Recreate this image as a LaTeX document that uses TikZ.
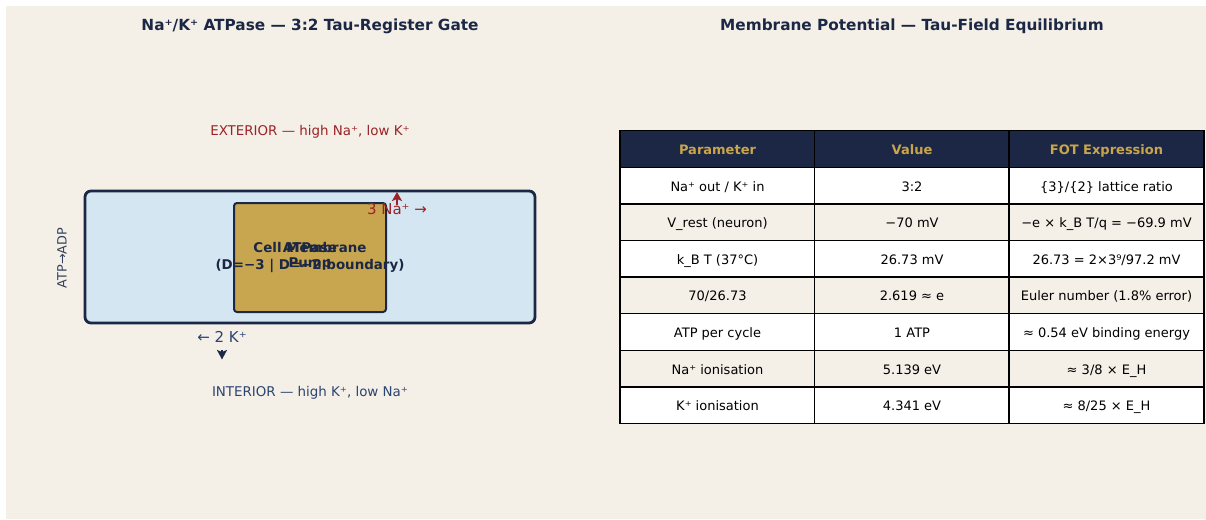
\documentclass[tikz,border=0pt]{standalone}
\usepackage{fontspec}
\setmainfont{DejaVu Sans}
\usetikzlibrary{arrows.meta}
\definecolor{bgpanel}{HTML}{F4EFE7}
\definecolor{navy}{HTML}{1B2744}
\definecolor{gold}{HTML}{C8A64F}
\definecolor{goldtxt}{HTML}{C9A54C}
\definecolor{lightblue}{HTML}{D4E6F1}
\definecolor{darkred}{HTML}{9B2226}
\definecolor{intblue}{HTML}{2B4470}
\definecolor{grayblue}{HTML}{34425E}
\definecolor{rowbeige}{HTML}{F4EFE7}
\begin{document}
\begin{tikzpicture}[x=1pt,y=-1pt,
  titletext/.style={font=\fontsize{15.3}{18}\selectfont\bfseries, text=navy},
  cell/.style={draw=black, line width=1.5pt, minimum width=194.7pt, minimum height=36.6pt, inner sep=0pt, text height=12.5pt, text depth=1.7pt, font=\fontsize{13}{15}\selectfont, text=black},
  headcell/.style={cell, fill=navy, text=goldtxt, font=\fontsize{13}{15}\selectfont\bfseries},
  wcell/.style={cell, fill=white},
  bcell/.style={cell, fill=rowbeige},
  membox/.style={draw=navy, line width=2.8pt, fill=lightblue, rounded corners=6pt, minimum width=450pt, minimum height=132pt, inner sep=0pt},
  pumpbox/.style={draw=navy, line width=2pt, fill=gold, rounded corners=3pt, minimum width=152pt, minimum height=109pt, inner sep=0pt},
  boldlabel/.style={font=\fontsize{13.4}{17}\selectfont\bfseries, text=navy, align=center},
  ionlabel/.style={font=\fontsize{15}{17}\selectfont},
  sidelabel/.style={font=\fontsize{13.4}{15}\selectfont}
]
\useasboundingbox (0,0) rectangle (1206,519);
\fill[white] (0,0) rectangle (1206,519);
\fill[bgpanel] (6,6) rectangle (1206,519);

% titles
\node[titletext] (tleft) at (310,26.5) {Na⁺/K⁺ ATPase — 3:2 Tau-Register Gate};
\node[titletext] (tright) at (912,26.5) {Membrane Potential — Tau-Field Equilibrium};

% left diagram
\node[sidelabel, text=darkred] (ext) at (310,131.5) {EXTERIOR — high Na⁺, low K⁺};
\node[membox] (mem) at (310,257) {};
\node[pumpbox] (pump) at (310,257.5) {};
\node[boldlabel] (memtext) at (310,257.5) {Cell Membrane\\(D=−3 | D=−2 boundary)};
\node[boldlabel, font=\fontsize{13.4}{15}\selectfont\bfseries] (pumptext) at (310,256.5) {ATPase\\Pump};
\node[sidelabel, font=\fontsize{12.8}{14}\selectfont, text=grayblue, rotate=90] (atp) at (62,258) {ATP→ADP};
\node[ionlabel, text=darkred] (na) at (397,209) {3 Na⁺ →};
\coordinate (natail) at (397,205);
\coordinate (nahead) at (397,192);
\draw[darkred, line width=1.8pt, -{Stealth[length=9pt,width=10pt,inset=2pt]}] (natail) -- (nahead);
\node[ionlabel, text=intblue] (k) at (222,337) {← 2 K⁺};
\coordinate (ktail) at (222,350);
\coordinate (khead) at (222,359.5);
\draw[navy, line width=1.8pt, -{Stealth[length=9.5pt,width=10pt,inset=2pt]}] (ktail) -- (khead);
\node[sidelabel, text=intblue] (int) at (310,392.5) {INTERIOR — high K⁺, low Na⁺};

% table
\node[headcell] (h1) at (717.5,149) {Parameter};
\node[headcell] (h2) at (912,149) {Value};
\node[headcell] (h3) at (1106.5,149) {FOT Expression};

\node[wcell] (r1a) at (717.5,185.6) {Na⁺ out / K⁺ in};
\node[wcell] (r1b) at (912,185.6) {3:2};
\node[wcell] (r1c) at (1106.5,185.6) {\{3\}/\{2\} lattice ratio};

\node[bcell] (r2a) at (717.5,222.2) {V\_rest (neuron)};
\node[bcell] (r2b) at (912,222.2) {−70 mV};
\node[bcell] (r2c) at (1106.5,222.2) {−e × k\_B T/q = −69.9 mV};

\node[wcell] (r3a) at (717.5,258.8) {k\_B T (37°C)};
\node[wcell] (r3b) at (912,258.8) {26.73 mV};
\node[wcell] (r3c) at (1106.5,258.8) {26.73 = 2×3⁹/97.2 mV};

\node[bcell] (r4a) at (717.5,295.4) {70/26.73};
\node[bcell] (r4b) at (912,295.4) {2.619 ≈ e};
\node[bcell] (r4c) at (1106.5,295.4) {Euler number (1.8\% error)};

\node[wcell] (r5a) at (717.5,332) {ATP per cycle};
\node[wcell] (r5b) at (912,332) {1 ATP};
\node[wcell] (r5c) at (1106.5,332) {≈ 0.54 eV binding energy};

\node[bcell] (r6a) at (717.5,368.6) {Na⁺ ionisation};
\node[bcell] (r6b) at (912,368.6) {5.139 eV};
\node[bcell] (r6c) at (1106.5,368.6) {≈ 3/8 × E\_H};

\node[wcell] (r7a) at (717.5,405.2) {K⁺ ionisation};
\node[wcell] (r7b) at (912,405.2) {4.341 eV};
\node[wcell] (r7c) at (1106.5,405.2) {≈ 8/25 × E\_H};
\end{tikzpicture}
\end{document}
